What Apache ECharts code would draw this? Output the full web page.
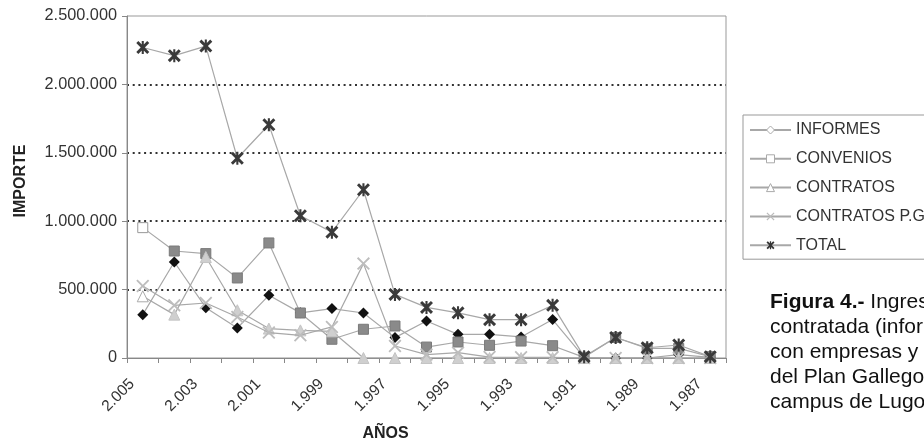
<!DOCTYPE html>
<html>
<head>
<meta charset="utf-8">
<script src="https://cdn.jsdelivr.net/npm/echarts@6/dist/echarts.min.js"></script>
<style>
html,body{margin:0;padding:0;background:#fff;}
#chart{width:924px;height:441px;}
</style>
</head>
<body>
<div id="chart"></div>
<script>
const years = [2005,2004,2003,2002,2001,2000,1999,1998,1997,1996,1995,1994,1993,1992,1991,1990,1989,1988,1987];
const informes = [317000,702000,368000,219000,458000,330000,361000,329000,149000,270000,173000,173000,154000,281000,5000,0,0,25000,5000];
const convenios = [953000,782000,763000,585000,841000,329000,137000,210000,234000,80000,117000,93000,124000,90000,5000,150000,70000,70000,10000];
const contratos = [451000,317000,738000,349000,215000,202000,195000,0,0,0,0,0,0,0,0,0,0,0,0];
const contratosPG = [526000,385000,402000,300000,186000,166000,227000,690000,88000,25000,39000,7000,5000,5000,0,0,0,0,0];
const total = [2270000,2210000,2280000,1460000,1705000,1040000,920000,1230000,465000,370000,330000,280000,280000,385000,10000,150000,75000,95000,10000];
const seriesNames = ['INFORMES','CONVENIOS','CONTRATOS','CONTRATOS P.G.','TOTAL'];
const yTicks = [0,500000,1000000,1500000,2000000,2500000];
const captionLines = ['{b|Figura 4.-} Ingresos','contratada (informes','con empresas y','del Plan Gallego','campus de Lugo'];

const FONT = '"Liberation Sans", Arial, sans-serif';
const fmt = v => String(v).replace(/\B(?=(\d{3})+(?!\d))/g, '.');
const X_PATH = 'path://M0,1 L1,0 L5,4 L9,0 L10,1 L6,5 L10,9 L9,10 L5,6 L1,10 L0,9 L4,5 Z';
const STAR_PATH = 'path://M0,1.6 L1.6,0 L5,3.4 L8.4,0 L10,1.6 L6.6,5 L10,8.4 L8.4,10 L5,6.6 L1.6,10 L0,8.4 L3.4,5 Z M4.2,0 L5.8,0 L5.8,10 L4.2,10 Z';
const LINE = '#a8a8a8';

function firstOpen(arr, openStyle) {
  return arr.map((v, i) => i === 0 ? {value: v, itemStyle: openStyle} : v);
}

const chart = echarts.init(document.getElementById('chart'), null, {renderer: 'canvas'});
chart.setOption({
  animation: false,
  backgroundColor: '#fff',
  textStyle: {fontFamily: FONT},
  grid: {left: 127, right: 198, top: 16, bottom: 83, containLabel: false, outerBoundsMode: 'none', show: true, borderColor: '#999', borderWidth: 1},
  xAxis: {
    type: 'category',
    data: years,
    boundaryGap: true,
    name: 'AÑOS',
    nameLocation: 'middle',
    nameGap: 68,
    nameTextStyle: {fontFamily: FONT, fontSize: 16, fontWeight: 'bold', color: '#222', padding: [0, 82, 0, 0]},
    axisLine: {lineStyle: {color: '#888', width: 1}},
    axisTick: {show: true, interval: 0, length: 5, lineStyle: {color: '#888'}},
    axisLabel: {interval: 1, rotate: 45, margin: 13, padding: [0, 15, 0, 0], fontSize: 15.5, color: '#333', fontFamily: FONT, formatter: v => fmt(v)},
    splitLine: {show: false}
  },
  yAxis: {
    type: 'value',
    min: yTicks[0],
    max: yTicks[yTicks.length - 1],
    interval: yTicks[1] - yTicks[0],
    name: 'IMPORTE',
    nameLocation: 'middle',
    nameGap: 98,
    nameTextStyle: {fontFamily: FONT, fontSize: 16, fontWeight: 'bold', color: '#222', padding: [0, 0, 0, 12]},
    axisLine: {show: true, lineStyle: {color: '#888', width: 1}},
    axisTick: {show: true, length: 5, lineStyle: {color: '#888'}},
    axisLabel: {margin: 10, fontSize: 16.3, color: '#333', fontFamily: FONT, formatter: v => fmt(v)},
    splitLine: {show: true, showMinLine: false, showMaxLine: false, lineStyle: {color: '#333', width: 2, type: [2, 3.7]}}
  },
  legend: {
    orient: 'vertical',
    left: 743,
    top: 115,
    padding: [7, 40, 6, 6],
    itemWidth: 41,
    itemHeight: 10,
    itemGap: 12.8,
    borderColor: '#999',
    borderWidth: 1,
    textStyle: {fontSize: 16, color: '#333', fontFamily: FONT, lineHeight: 16},
    data: [
      {name: seriesNames[0], itemStyle: {color: '#fff', borderColor: '#aaa', borderWidth: 1}},
      {name: seriesNames[1], itemStyle: {color: '#fff', borderColor: '#aaa', borderWidth: 1}},
      {name: seriesNames[2], itemStyle: {color: '#fff', borderColor: '#aaa', borderWidth: 1}},
      {name: seriesNames[3], itemStyle: {color: '#bbb', borderColor: '#bbb', borderWidth: 0}},
      {name: seriesNames[4], itemStyle: {color: '#333', borderColor: '#333', borderWidth: 0}}
    ]
  },
  series: [
    {
      name: seriesNames[0], type: 'line', data: informes,
      symbol: 'diamond', symbolSize: 11, showAllSymbol: true,
      lineStyle: {color: LINE, width: 1.2}, itemStyle: {color: '#111', borderColor: '#111', borderWidth: 0}, z: 2
    },
    {
      name: seriesNames[1], type: 'line', data: firstOpen(convenios, {color: '#fff', borderColor: '#999', borderWidth: 1}),
      symbol: 'rect', symbolSize: 10, showAllSymbol: true,
      lineStyle: {color: LINE, width: 1.2}, itemStyle: {color: '#8a8a8a', borderColor: '#7a7a7a', borderWidth: 1}, z: 3
    },
    {
      name: seriesNames[2], type: 'line', data: firstOpen(contratos, {color: '#fff', borderColor: '#aaa', borderWidth: 1}),
      symbol: 'triangle', symbolSize: 11, showAllSymbol: true,
      lineStyle: {color: LINE, width: 1.2}, itemStyle: {color: '#cfcfcf', borderColor: '#c4c4c4', borderWidth: 1}, z: 4
    },
    {
      name: seriesNames[3], type: 'line', data: contratosPG,
      symbol: X_PATH, symbolSize: 13, showAllSymbol: true,
      lineStyle: {color: LINE, width: 1.2}, itemStyle: {color: '#bdbdbd', borderWidth: 0}, z: 5
    },
    {
      name: seriesNames[4], type: 'line', data: total,
      symbol: STAR_PATH, symbolSize: 13, showAllSymbol: true,
      lineStyle: {color: LINE, width: 1.2}, itemStyle: {color: '#3a3a3a', borderWidth: 0}, z: 6
    }
  ],
  graphic: [
    {
      type: 'text', left: 770, top: 290,
      style: {
        text: captionLines.join('\n'),
        fontSize: 21, lineHeight: 25, fill: '#111', fontFamily: FONT,
        rich: {b: {fontWeight: 'bold', fontSize: 21, fontFamily: FONT, fill: '#111'}}
      }
    }
  ]
});
</script>
</body>
</html>
